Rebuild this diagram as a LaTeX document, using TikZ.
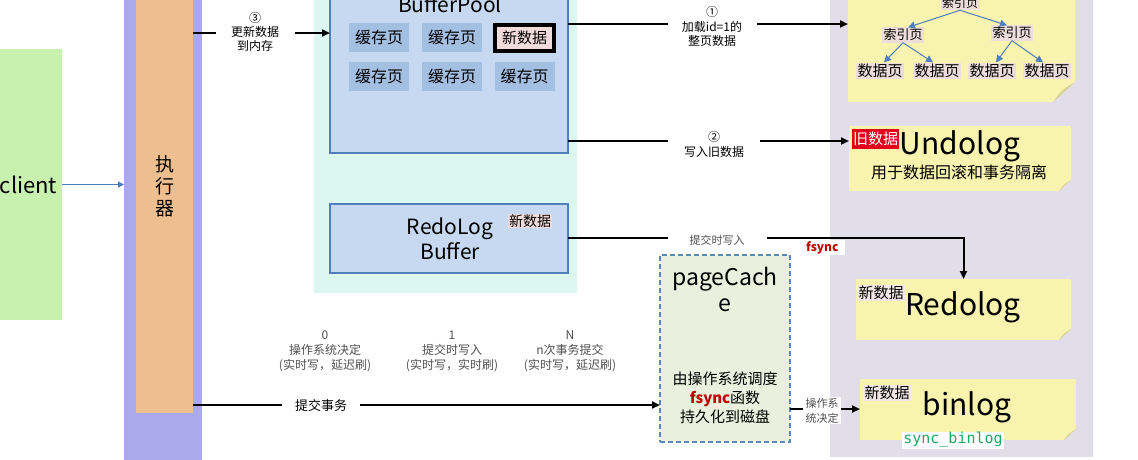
\documentclass[tikz,border=0pt]{standalone}
\usepackage{fontspec}
\setmainfont{Noto Sans CJK SC}
\newfontfamily\monof{DejaVu Sans Mono}
\usetikzlibrary{arrows.meta}
\newcommand\fsz[2]{\fontsize{#1}{#2}\selectfont}
\definecolor{clientg}{HTML}{C8F1B0}
\definecolor{barp}{HTML}{A9A9EC}
\definecolor{execo}{HTML}{EDBF90}
\definecolor{cyanbg}{HTML}{DCF6F0}
\definecolor{bpf}{HTML}{C6D9F0}
\definecolor{bpb}{HTML}{4F7FBD}
\definecolor{cachef}{HTML}{A3BFE2}
\definecolor{pinkf}{HTML}{F2DCDB}
\definecolor{pcf}{HTML}{E9F0DD}
\definecolor{pcb}{HTML}{5A86B8}
\definecolor{rgray}{HTML}{E1DDE9}
\definecolor{noteY}{HTML}{F8F3AF}
\definecolor{foldY}{HTML}{D8D28C}
\definecolor{oldred}{HTML}{E2001A}
\definecolor{fsred}{HTML}{C00000}
\definecolor{syncg}{HTML}{1FA862}
\definecolor{arrblue}{HTML}{4A7EBB}
\definecolor{lblgray}{HTML}{505050}
\definecolor{treep}{HTML}{ECDDDA}
\newcommand\notefold[3]{%
  \fill[rgray] ([xshift=-#2pt]#1.south east) -- (#1.south east) -- ([yshift=#3pt]#1.south east) -- cycle;
  \fill[foldY] ([xshift=-#2pt]#1.south east) .. controls ([xshift=-0.6*#2pt,yshift=0.6*#3pt]#1.south east) .. ([yshift=#3pt]#1.south east) -- cycle;}
\begin{document}
\begin{tikzpicture}[x=1pt,y=-1pt,
  blk/.style={inner sep=0pt, outer sep=0pt, anchor=north west},
  arr/.style={line width=2pt, -{Triangle[length=8pt,width=7pt]}},
  tarr/.style={color=bpb, line width=1pt, -{Triangle[length=7pt,width=7pt]}},
  lbl/.style={fill=white, inner sep=1pt, align=center},
  cpg/.style={fill=cachef, minimum width=60pt, minimum height=29pt, inner sep=0pt, font=\fsz{16}{18}},
  tpg/.style={fill=treep, inner sep=1.5pt},
  grl/.style={align=center, text=lblgray, font=\fsz{12}{15}}]
\useasboundingbox (0,0) rectangle (1138,459);
\node[blk, fill=white, minimum width=1138pt, minimum height=459pt] (bg) at (0,0) {};
% client and executor
\node[blk, fill=clientg, minimum width=62pt, minimum height=271pt] (client) at (0,49) {};
\node[anchor=base, font=\fsz{22}{26}] (clienttxt) at (28.5,193) {client};
\node[blk, fill=barp, minimum width=78pt, minimum height=470pt] (bar) at (124,-5) {};
\node[blk, fill=execo, minimum width=57pt, minimum height=418pt] (exec) at (136,-5) {};
\node[font=\fsz{19}{22}, align=center] (exectxt) at (165,186) {执\\行\\器};
\draw[color=arrblue, line width=1.3pt, -{Triangle[length=6pt,width=6pt]}] (client.east) -- (client.east -| bar.west);
% memory area
\node[blk, fill=cyanbg, minimum width=263pt, minimum height=303pt] (cyan) at (314,-10) {};
\node[blk, fill=bpf, draw=bpb, line width=2pt, minimum width=238pt, minimum height=183pt] (bp) at (330,-30) {};
\node[anchor=base, font=\fsz{21}{24}] (bptitle) at (450,12) {BufferPool};
\node[cpg] (c11) at (379,37.5) {缓存页};
\node[cpg] (c12) at (452,37.5) {缓存页};
\node[fill=pinkf, draw=black, line width=3.5pt, minimum width=59pt, minimum height=26pt, inner sep=0pt, font=\fsz{15}{17}] (newd) at (524.5,38) {新数据};
\node[cpg] (c21) at (379,76) {缓存页};
\node[cpg] (c22) at (452,76) {缓存页};
\node[cpg] (c23) at (524.5,76) {缓存页};
\node[blk, fill=bpf, draw=bpb, line width=2pt, minimum width=238pt, minimum height=69pt] (rb) at (330,204) {};
\node[anchor=base, font=\fsz{21}{24}] (rbt1) at (450,234) {RedoLog};
\node[anchor=base, font=\fsz{21}{24}] (rbt2) at (450,259) {Buffer};
\node[fill=pinkf, inner sep=1pt, font=\fsz{14}{16}] (rbnew) at (530,221) {新数据};
% disk area
\node[blk, fill=rgray, minimum width=263pt, minimum height=462pt] (rg) at (830,-5) {};
\node[blk, fill=noteY, minimum width=227pt, minimum height=107pt] (tree) at (848,-5) {};
\notefold{tree}{22}{20}
\node[blk, fill=noteY, minimum width=222pt, minimum height=65pt] (undo) at (849,126) {};
\notefold{undo}{12}{11}
\node[blk, fill=noteY, minimum width=215pt, minimum height=61pt] (redo) at (856,279) {};
\notefold{redo}{12}{11}
\node[blk, fill=noteY, minimum width=216pt, minimum height=61pt] (binlog) at (860,379) {};
\notefold{binlog}{12}{11}
% tree
\node[tpg, font=\fsz{12}{14}] (tr0) at (960,3) {索引页};
\node[tpg, font=\fsz{13}{15}] (tr1) at (903,35) {索引页};
\node[tpg, font=\fsz{13}{15}] (tr2) at (1012,33) {索引页};
\node[tpg, font=\fsz{15}{17}] (lf1) at (880,71) {数据页};
\node[tpg, font=\fsz{15}{17}] (lf2) at (937,71) {数据页};
\node[tpg, font=\fsz{15}{17}] (lf3) at (992,71) {数据页};
\node[tpg, font=\fsz{15}{17}] (lf4) at (1047,71) {数据页};
\draw[tarr] (tr0.south) -- ([xshift=5pt]tr1.north);
\draw[tarr] (tr0.south) -- ([xshift=-5pt]tr2.north);
\draw[tarr] (tr1.south) -- ([xshift=4pt]lf1.north);
\draw[tarr] (tr1.south) -- ([xshift=-4pt]lf2.north);
\draw[tarr] (tr2.south) -- ([xshift=4pt]lf3.north);
\draw[tarr] (tr2.south) -- ([xshift=-4pt]lf4.north);
% note texts
\node[fill=oldred, text=white, minimum width=47pt, minimum height=20pt, inner sep=0pt, font=\fsz{15}{17}] (oldd) at (875.5,139) {旧数据};
\node[anchor=base, font=\fsz{30}{32}] (undot) at (960,154) {Undolog};
\node[font=\fsz{16}{18}] (undosub) at (959,172) {用于数据回滚和事务隔离};
\node[fill=treep!70, inner sep=1pt, font=\fsz{15}{17}] (redonew) at (881,293) {新数据};
\node[anchor=base, font=\fsz{30}{34}] (redot) at (963,315) {Redolog};
\node[fill=treep!70, inner sep=1pt, font=\fsz{15}{17}] (binnew) at (887,393) {新数据};
\node[anchor=base, font=\fsz{30}{34}] (bint) at (967,415) {binlog};
\node[fill=white, inner sep=1pt, text=syncg, font=\monof\fsz{15}{17}] (sync) at (953,440) {sync\_binlog};
% page cache
\node[blk, fill=pcf, draw=pcb, line width=2pt, dash pattern=on 5pt off 3pt, minimum width=130pt, minimum height=187pt] (pc) at (660,255) {};
\node[anchor=base, font=\fsz{23}{26}] (pct1) at (725,285) {pageCach};
\node[anchor=base, font=\fsz{23}{26}] (pct2) at (725,311) {e};
\node[align=center, font=\fsz{15}{19}] (pct3) at (725,398) {由操作系统调度\\\textcolor{fsred}{\bfseries fsync}函数\\持久化到磁盘};
% connectors
\coordinate (y3) at (0,33);
\draw[arr] (exec.east |- y3) -- (bp.west |- y3);
\node[lbl, minimum width=79pt, font=\fsz{12}{14}] (l3) at (255,32) {③\\更新数据\\到内存};
\coordinate (y1) at (0,24);
\draw[arr] (bp.east |- y1) -- (tree.west |- y1);
\node[lbl, minimum width=89pt, font=\fsz{12}{14.5}] (l1) at (712,26.5) {①\\加载id=1的\\整页数据};
\coordinate (y2) at (0,141);
\draw[arr] (bp.east |- y2) -- (undo.west |- y2);
\node[lbl, minimum width=92pt, font=\fsz{12}{15}] (l2) at (714,144.5) {②\\写入旧数据};
\coordinate (yr) at (0,238);
\draw[arr] (rb.east |- yr) -| (redo.north);
\node[lbl, minimum width=99pt, text=lblgray, font=\fsz{11}{13}] (lr) at (717,240) {提交时写入};
\node[fill=white, anchor=west, inner sep=1pt, text width=38pt, font=\fsz{12}{14}] (fsl) at (805,247.5) {\textcolor{fsred}{\bfseries fsync}};
\coordinate (yb) at (0,405);
\draw[arr] (exec.east |- yb) -- (pc.west |- yb);
\node[lbl, minimum width=78pt, font=\fsz{13}{15}] (lb) at (321,406) {提交事务};
\coordinate (yp) at (0,409);
\draw[arr] (pc.east |- yp) -- (binlog.west |- yp);
\node[lbl, minimum width=38pt, text=lblgray, font=\fsz{11}{15}] (lp) at (822,410.5) {操作系\\统决定};
% flush modes
\node[grl] (m0) at (325,351) {0\\操作系统决定\\(实时写，延迟刷)};
\node[grl] (m1) at (452,351) {1\\提交时写入\\(实时写，实时刷)};
\node[grl] (mn) at (570,351) {N\\n次事务提交\\(实时写，延迟刷)};
\end{tikzpicture}
\end{document}
